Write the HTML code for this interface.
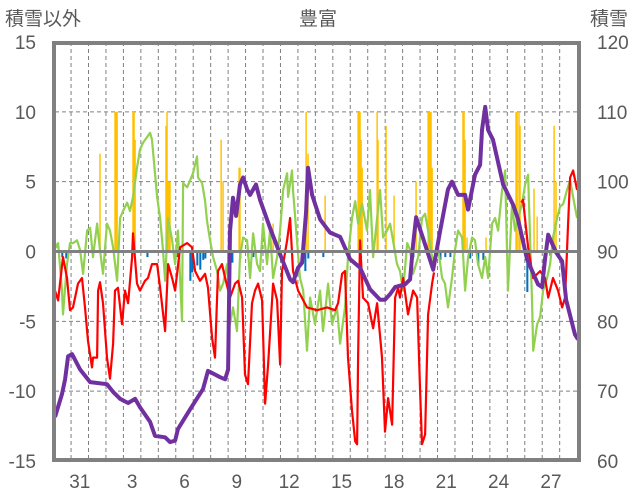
<!DOCTYPE html>
<html><head><meta charset="utf-8"><style>
html,body{margin:0;padding:0;background:#fff;}
svg{display:block;font-family:"Liberation Sans","Noto Sans CJK JP",sans-serif;}
</style></head><body>
<svg id="chart" width="636" height="501" viewBox="0 0 636 501" xmlns="http://www.w3.org/2000/svg">
<text x="318" y="25" text-anchor="middle" font-size="19" fill="#595959">豊富</text>
<text x="5" y="25" font-size="19" fill="#595959">積雪以外</text>
<text x="590" y="25" font-size="19" fill="#595959">積雪</text>
<g id="grid"></g>
<g id="bars"></g>
<g id="lines"></g>
<g id="axes"></g>
</svg>
<script>
// ---- data ----
const leftTicks = [15, 10, 5, 0, -5, -10, -15];
const rightTicks = [120, 110, 100, 90, 80, 70, 60];
const dayLabels = ["31","3","6","9","12","15","18","21","24","27"];
const dayLabelIdx = [0,3,6,9,12,15,18,21,24,27];

const purpleT = [-0.92,-0.52,-0.34,-0.17,0.06,0.52,1.09,2.06,2.41,2.81,3.27,3.67,3.95,4.53,4.81,5.39,5.67,5.96,6.13,6.82,7.56,7.85,8.54,8.83,9.0,9.11,9.28,9.46,9.68,9.86,10.09,10.26,10.6,10.83,11.4,11.98,12.55,12.72,13.01,13.24,13.47,13.58,13.81,14.27,14.84,15.42,15.99,16.56,17.13,17.71,17.99,18.28,18.57,19.14,19.43,19.6,19.77,20.29,20.75,21.15,21.6,21.83,22.18,22.58,22.75,23.15,23.44,23.55,23.73,23.9,24.18,24.76,25.33,25.62,26.13,26.76,26.99,27.16,27.34,27.79,28.14,28.37,28.88,29.05];
const purpleV = [66.3,69.6,71.7,75,75.3,73.1,71.3,71,69.9,68.9,68.3,68.9,67.7,65.6,63.6,63.4,62.7,62.9,64.6,67.4,70.3,72.9,72,71.7,73.1,92.9,97.7,95.1,99.6,100.6,98.9,98.1,99.6,97.4,93.4,89.6,86,85.6,87.7,88.4,95.7,102,98.1,94.6,92.7,92.1,88.9,87.7,84.6,83.1,83.1,83.9,84.9,85.3,86,91,94.9,91,87.4,92.9,98.9,100,98.1,98.1,96,101,102.4,107.4,110.7,107.4,106,99.6,96.7,94.6,88.9,85.3,84.9,88.9,92.4,89.9,88.6,83.1,78.1,77.4];

const redT = [-0.92,-0.74,-0.46,-0.23,-0.06,0.11,0.4,0.63,0.8,0.97,1.2,1.26,1.49,1.55,1.66,1.83,2.06,2.23,2.41,2.52,2.69,2.92,3.09,3.27,3.5,3.55,3.78,3.95,4.24,4.41,4.64,4.93,5.1,5.39,5.56,5.79,5.96,6.25,6.65,6.93,7.11,7.39,7.68,7.85,8.08,8.25,8.42,8.65,8.83,9.11,9.4,9.57,9.8,9.97,10.14,10.37,10.54,10.72,10.95,11.12,11.29,11.58,11.81,11.98,12.09,12.38,12.55,12.72,13.01,13.52,14.1,14.67,15.13,15.3,15.53,15.7,15.87,16.1,16.28,16.39,16.45,16.56,16.73,17.02,17.31,17.54,17.82,17.99,18.17,18.4,18.57,18.74,18.85,19.03,19.31,19.6,19.83,20.0,20.11,20.29,20.46,20.69,20.8,21.0,25.8,25.9,26.19,26.48,26.88,27.16,27.34,27.62,27.91,28.14,28.31,28.48,28.6,28.77,29.0];
const redV = [-2.8,-3.5,-0.4,-1.9,-4.2,-4.0,-2.3,-1.9,-4.0,-6.4,-8.3,-7.6,-7.6,-2.8,-2.2,-3.7,-7.6,-9.1,-6.6,-2.8,-2.6,-5.2,-2.8,-3.7,-0.4,1.3,-2.3,-2.8,-2.1,-1.9,-0.9,-0.9,-2.6,-5.7,-0.9,-1.9,-2.8,0.3,0.6,0.3,-1.4,-2.1,-1.6,-2.6,-6.2,-7.6,-1.4,-0.9,-1.9,-3.3,-2.3,-2.1,-3.3,-8.8,-9.5,-3.7,-2.8,-2.3,-3.5,-10.9,-8.1,-2.3,-3.5,-8.1,-1.4,0.8,2.4,-1.4,-2.8,-4.0,-4.2,-4.0,-4.2,-3.7,-1.6,-1.4,-7.6,-11.4,-13.6,-13.8,-7.6,0.8,-3.3,-3.7,-5.5,-3.7,-7.6,-12.9,-10.5,-12.4,-3.3,-2.6,-3.3,-1.9,-4.5,-2.8,-3.3,-10.0,-13.8,-13.1,-4.5,-2.3,-1.5,null,3.5,3.7,0.3,-1.9,-1.4,-1.9,-3.3,-1.9,-2.8,-4.0,-3.3,2.0,5.3,5.8,4.4];

const greenT = [-0.92,-0.8,-0.74,-0.52,-0.46,-0.23,-0.06,0.11,0.34,0.52,0.69,0.92,1.09,1.26,1.49,1.66,1.83,2.06,2.23,2.41,2.64,2.81,2.98,3.21,3.38,3.55,3.78,3.95,4.13,4.36,4.53,4.64,4.93,5.1,5.27,5.39,5.56,5.79,5.96,6.13,6.36,6.42,6.65,6.82,6.99,7.22,7.28,7.51,7.68,7.79,7.97,8.14,8.37,8.54,8.71,8.94,9.11,9.28,9.51,9.68,9.86,10.09,10.26,10.43,10.66,10.83,11.0,11.23,11.4,11.58,11.81,11.98,12.15,12.38,12.44,12.66,12.72,12.95,13.12,13.3,13.52,13.7,13.98,14.27,14.44,14.73,14.96,15.24,15.42,15.7,15.87,16.1,16.28,16.45,16.68,16.96,17.13,17.31,17.54,17.71,17.88,18.11,18.28,18.45,18.68,18.85,19.03,19.26,19.43,19.6,19.89,20.11,20.29,20.46,20.69,20.86,21.03,21.26,21.43,21.6,21.83,22.0,22.18,22.41,22.58,22.75,22.98,23.15,23.32,23.55,23.73,23.9,24.13,24.3,24.47,24.7,24.87,25.04,25.27,25.44,25.62,25.84,26.02,26.19,26.42,26.48,26.71,26.88,27.05,27.28,27.45,27.62,27.85,28.02,28.2,28.42,28.6,28.77,29.0];
const greenV = [0.6,0.3,0.6,-2.8,-4.5,-0.9,0.6,0.6,0.8,0.1,-1.6,1.5,1.7,-0.4,2.0,0.1,-1.6,2.0,1.5,0.3,-2.1,2.4,2.9,3.5,2.9,3.9,6.0,7.3,7.8,8.2,8.5,8.0,3.9,2.4,0.1,-2.1,2.4,0.8,-0.9,1.5,-5.0,4.9,4.6,5.1,5.6,6.8,5.3,4.9,3.6,2.2,0.8,-0.4,-1.4,-2.8,-2.3,-0.9,-5.2,-4.0,-5.7,-0.4,1.0,0.8,-1.9,1.3,-0.9,-1.4,2.0,-0.9,1.5,-1.9,-0.4,1.5,4.4,5.6,3.9,5.8,4.4,0.8,-1.9,-2.8,-7.1,-3.3,-5.2,-2.8,-5.7,-2.3,-5.2,-4.0,-6.6,-4.0,-0.4,2.4,3.6,2.0,3.4,1.5,4.4,-0.4,2.4,4.4,1.0,1.5,2.0,0.8,-0.9,-1.4,-2.8,0.6,0.1,-1.6,-0.4,2.4,2.7,1.5,-0.4,-0.9,0.3,-1.9,-2.3,-4.0,-1.9,0.1,1.5,1.0,-2.8,-0.4,1.0,0.8,-0.9,-1.9,-0.4,-1.9,2.0,2.4,1.5,4.4,5.8,-2.8,3.4,1.5,2.4,3.4,4.8,5.5,-3.7,-7.1,-5.2,-4.7,-2.8,-1.9,-0.9,1.0,2.4,3.2,3.4,4.4,5.1,3.9,2.4];

const orangeT = [1.66,2.52,2.58,2.64,3.55,3.61,3.67,5.44,5.5,5.56,5.62,5.67,8.6,8.71,9.63,9.68,11.58,13.47,13.58,14.56,16.45,16.5,16.56,16.62,16.68,17.54,17.59,18.05,18.51,19.77,20.46,20.52,20.57,20.63,20.69,22.46,22.52,22.58,22.69,23.78,25.5,25.56,25.67,25.73,26.53,26.71,27.68,27.79];
const orangeV = [7,10,10,10,10,10,8,9,10,5,5,5,8,5,6,6,2,10,7,4,10,10,10,8,6,10,8,9,4,5,10,10,10,10,6,10,10,8,1,1,10,10,10,9,4.5,2.5,9,5];

const blueT = [-0.52,-0.29,4.36,6.08,6.82,6.93,7.22,7.39,7.56,7.68,9.0,9.23,9.68,10.14,10.43,13.41,13.58,14.44,19.6,21.15,21.43,21.72,22.86,23.32,23.61,26.13,26.3,27.45];
const blueV = [-0.4,-0.5,-0.4,-0.4,-2.1,-1.5,-1.0,-1.3,-0.6,-0.5,-1.5,-0.8,-0.5,-0.4,-0.4,-1.4,-0.5,-0.4,-0.4,-0.6,-0.4,-0.4,-0.5,-1.0,-0.6,-2.9,-1.0,-0.3];

// ---- scales ----
const X0 = 55, X1 = 578, T0 = -0.92, T1 = 29.05;
const YT = 42, YB = 461;
function xs(t){ return X0 + (t - T0) * (X1 - X0) / (T1 - T0); }
function yl(v){ return YT + (15 - v) * (YB - YT) / 30; }
function yr(v){ return YT + (120 - v) * (YB - YT) / 60; }

const NS = "http://www.w3.org/2000/svg";
function mk(tag, parent){ const e = document.createElementNS(NS, tag); parent.appendChild(e); return e; }
const grid = document.getElementById('grid');
const bars = document.getElementById('bars');
const lines = document.getElementById('lines');
const axes = document.getElementById('axes');

leftTicks.forEach(function(v){
  if (v === 15 || v === -15 || v === 0) return;
  const l = mk('line', grid);
  
  
  l.setAttribute('x1', X0); l.setAttribute('x2', X1);
  l.setAttribute('y1', yl(v)); l.setAttribute('y2', yl(v));
  l.setAttribute('stroke', '#808080'); l.setAttribute('stroke-width', '1');
  l.setAttribute('stroke-dasharray', '4,3');
});
for (let d = 0; d <= 28; d++) {
  const l = mk('line', grid);
  
  
  l.setAttribute('x1', xs(d)); l.setAttribute('x2', xs(d));
  l.setAttribute('y1', YT); l.setAttribute('y2', YB);
  l.setAttribute('stroke', '#808080'); l.setAttribute('stroke-width', '1');
  l.setAttribute('stroke-dasharray', '4,3');
}

const bw = (X1 - X0) / (T1 - T0) / 12;
orangeT.forEach(function(t, i){
  const r = mk('rect', bars);
  
  
  const y = yl(orangeV[i]);
  r.setAttribute('x', xs(t) - bw/2); r.setAttribute('width', bw);
  r.setAttribute('y', y); r.setAttribute('height', yl(0) - y);
  r.setAttribute('fill', '#FFC000');
});
blueT.forEach(function(t, i){
  const r = mk('rect', bars);
  
  
  r.setAttribute('x', xs(t) - bw/2); r.setAttribute('width', bw * 1.4);
  r.setAttribute('y', yl(0)); r.setAttribute('height', yl(blueV[i]) - yl(0));
  r.setAttribute('fill', '#0070C0');
});

const z = mk('line', axes);


z.setAttribute('x1', X0); z.setAttribute('x2', X1);
z.setAttribute('y1', yl(0)); z.setAttribute('y2', yl(0));
z.setAttribute('stroke', '#808080'); z.setAttribute('stroke-width', '3');

function poly(T, V, yf, color, w, name){
  let segs = [[]];
  T.forEach(function(t, i){
    if (V[i] === null) { segs.push([]); return; }
    segs[segs.length - 1].push(xs(t).toFixed(1) + ',' + yf(V[i]).toFixed(1));
  });
  segs.forEach(function(s){
    if (s.length < 2) return;
    const p = mk('polyline', lines);
    
    
    p.setAttribute('points', s.join(' '));
    p.setAttribute('fill', 'none'); p.setAttribute('stroke', color);
    p.setAttribute('stroke-width', w); p.setAttribute('stroke-linejoin', 'round');
  });
}
poly(greenT, greenV, yl, '#92D050', 2.2, 'green-series');
poly(redT, redV, yl, '#FF0000', 2.2, 'red-series');
poly(purpleT, purpleV, yr, '#7030A0', 4, 'snow-depth-series');

const fr = mk('rect', axes);


fr.setAttribute('x', 54); fr.setAttribute('y', 43); fr.setAttribute('width', 525); fr.setAttribute('height', 417);
fr.setAttribute('fill', 'none'); fr.setAttribute('stroke', '#808080'); fr.setAttribute('stroke-width', '4');

leftTicks.forEach(function(v){
  const t = mk('text', axes);
  
  
  t.setAttribute('x', 36); t.setAttribute('y', yl(v) + 7);
  t.setAttribute('text-anchor', 'end'); t.setAttribute('font-size', '19'); t.setAttribute('fill', '#595959');
  t.textContent = v;
});
rightTicks.forEach(function(v){
  const t = mk('text', axes);
  
  
  t.setAttribute('x', 597); t.setAttribute('y', yr(v) + 7);
  t.setAttribute('font-size', '19'); t.setAttribute('fill', '#595959');
  t.textContent = v;
});
dayLabels.forEach(function(s, i){
  const t = mk('text', axes);
  
  
  t.setAttribute('x', xs(dayLabelIdx[i] + 0.5)); t.setAttribute('y', 488);
  t.setAttribute('text-anchor', 'middle'); t.setAttribute('font-size', '19'); t.setAttribute('fill', '#595959');
  t.textContent = s;
});
</script>
</body></html>
